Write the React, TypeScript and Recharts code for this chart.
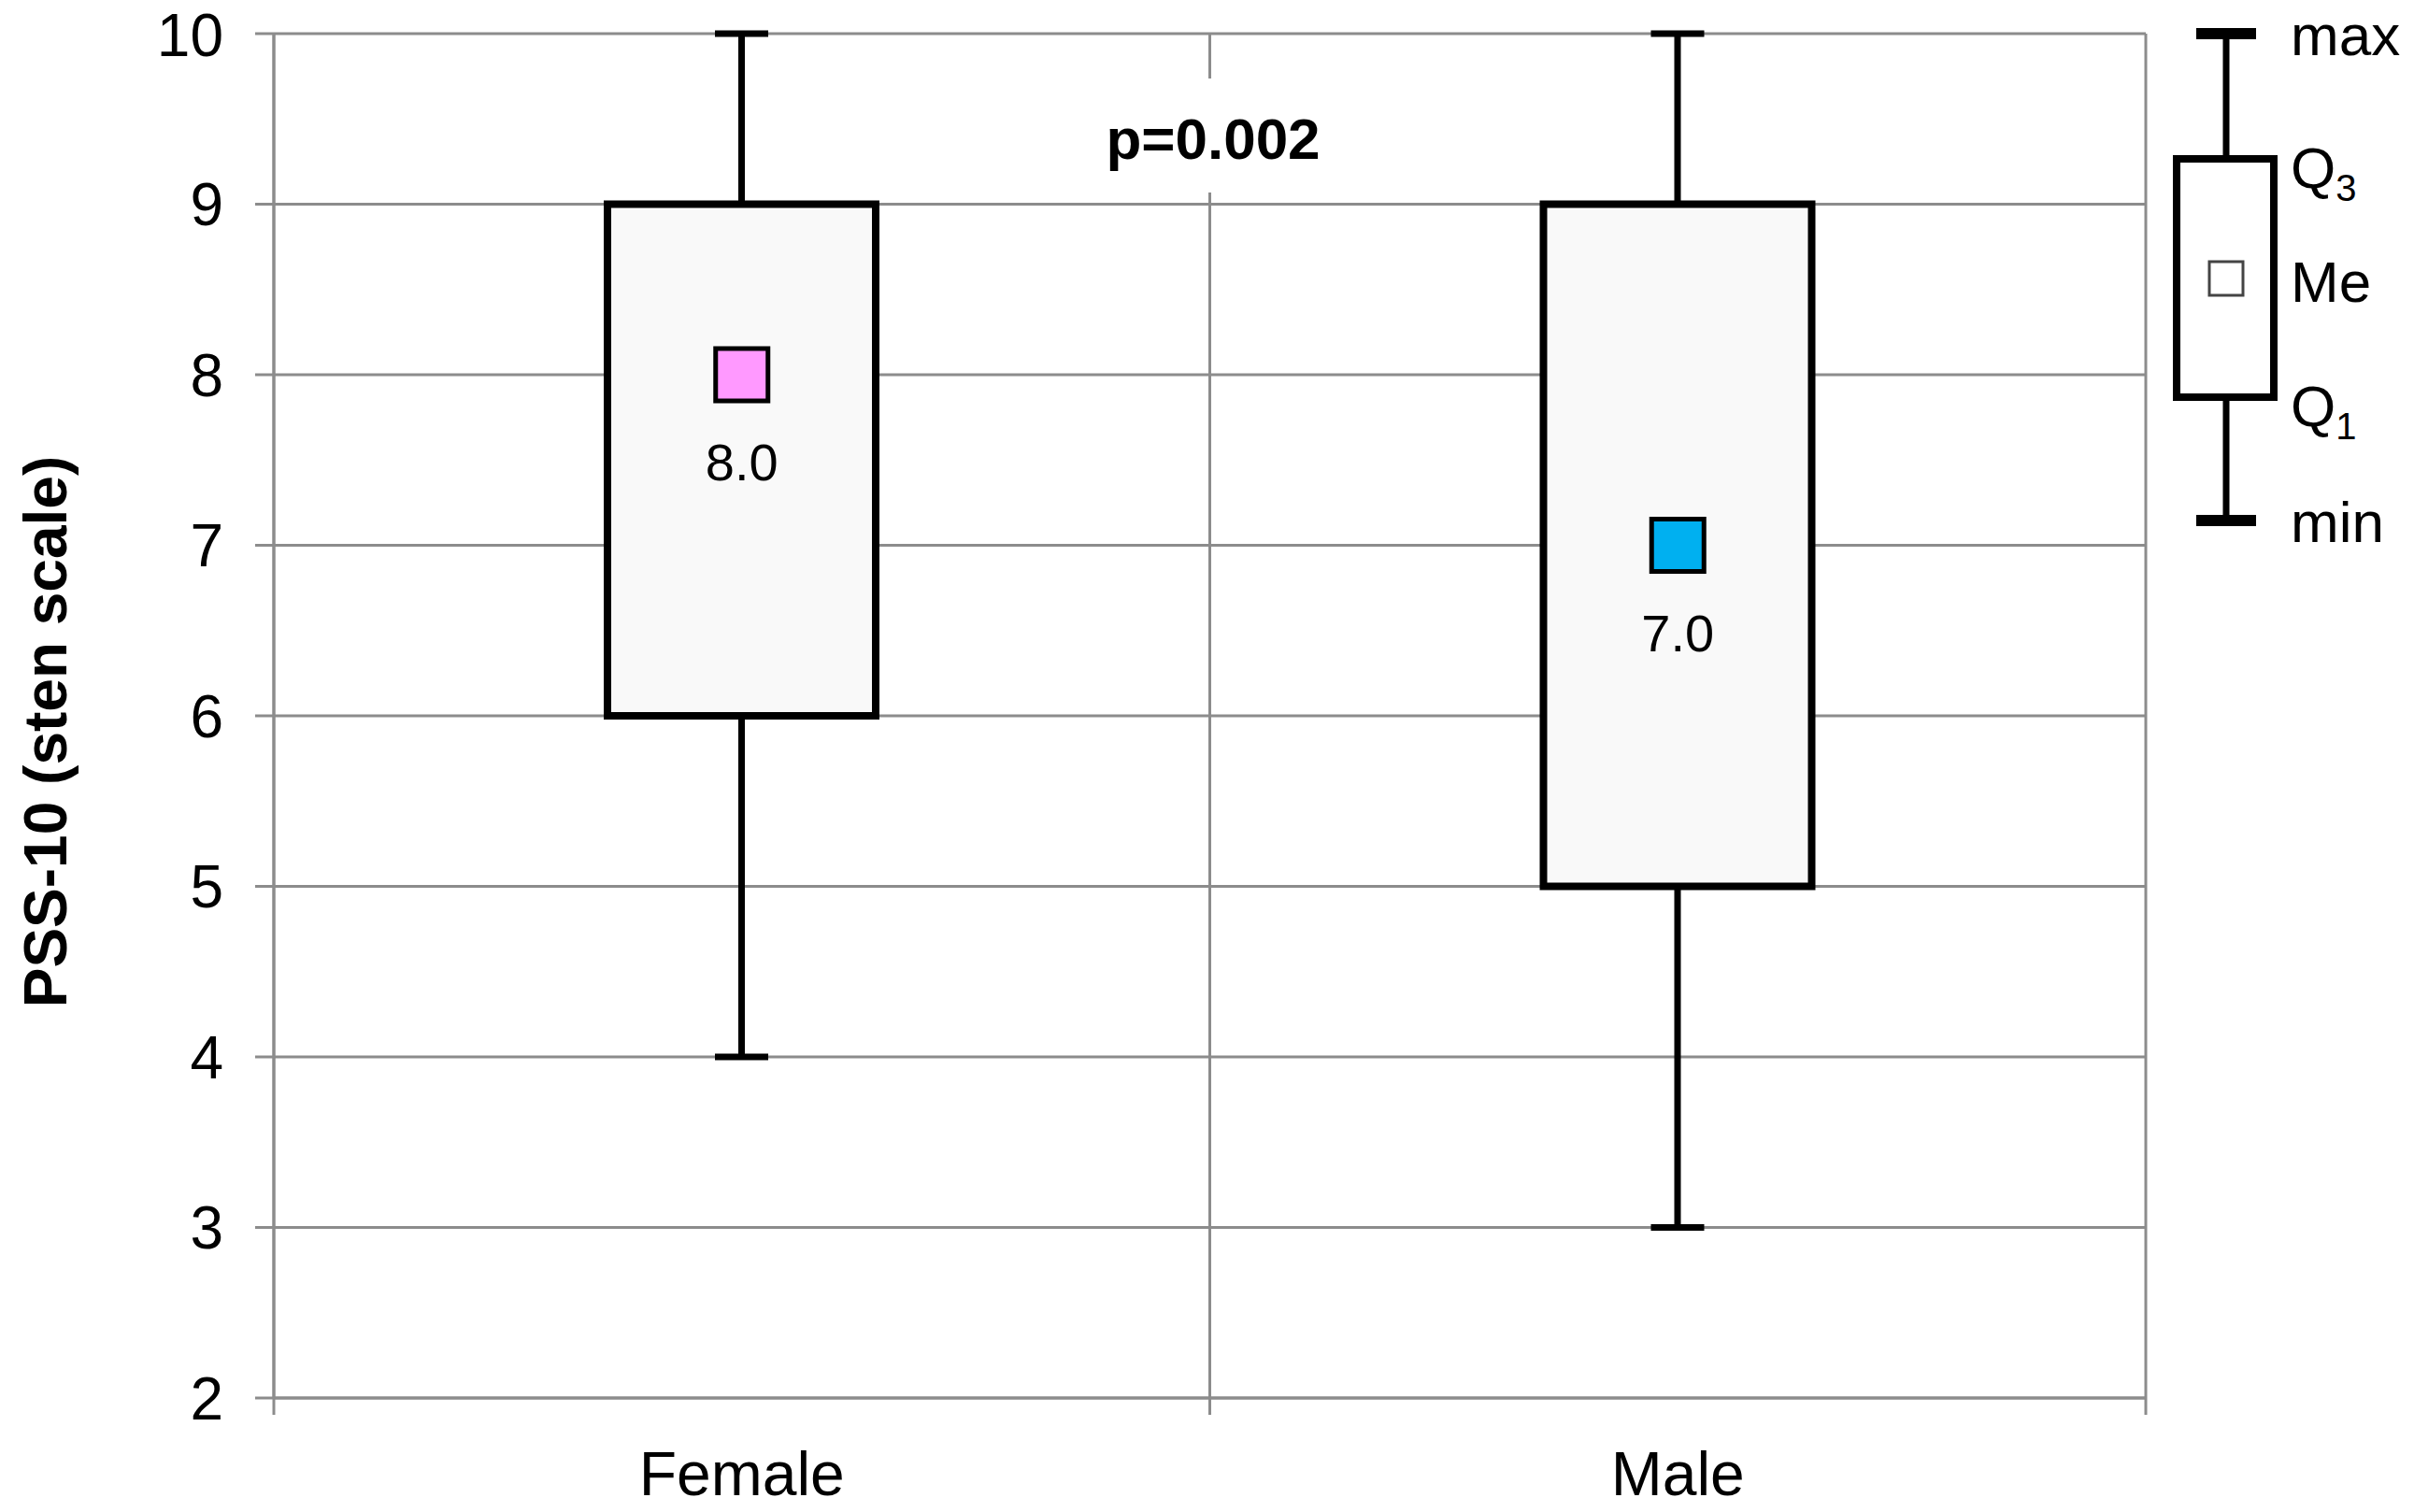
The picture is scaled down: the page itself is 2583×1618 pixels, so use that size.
import { ComposedChart, Bar, Scatter, XAxis, YAxis, CartesianGrid } from 'recharts'

// box plot data, PSS-10 sten scale
const groups = ['Female', 'Male']
const minValues = [4, 3]
const q1Values = [6, 5]
const medianValues = [8, 7]
const q3Values = [9, 9]
const maxValues = [10, 10]
const medianColors = ['#ff99ff', '#00b0f0']
const yTicks = [2, 3, 4, 5, 6, 7, 8, 9, 10]
const pValue = 'p=0.002'

const data = groups.map((g, i) => ({
  group: g,
  range: [minValues[i], maxValues[i]],
  min: minValues[i],
  q1: q1Values[i],
  median: medianValues[i],
  q3: q3Values[i],
  max: maxValues[i],
  color: medianColors[i],
}))

const FONT = '"Liberation Sans", Arial, sans-serif'
const GRID = '#8c8c8c'

function BoxShape(props: any) {
  const { x, y, width, height, payload } = props
  const unit = height / (payload.max - payload.min)
  const yOf = (v: number) => y + (payload.max - v) * unit
  const cx = x + width / 2
  const cap = 57
  return (
    <g>
      <line x1={cx} x2={cx} y1={yOf(payload.max)} y2={yOf(payload.q3)} stroke="#000" strokeWidth={7} />
      <line x1={cx} x2={cx} y1={yOf(payload.q1)} y2={yOf(payload.min)} stroke="#000" strokeWidth={7} />
      <line x1={cx - cap / 2} x2={cx + cap / 2} y1={yOf(payload.max)} y2={yOf(payload.max)} stroke="#000" strokeWidth={7} />
      <line x1={cx - cap / 2} x2={cx + cap / 2} y1={yOf(payload.min)} y2={yOf(payload.min)} stroke="#000" strokeWidth={7} />
      <rect
        x={x}
        y={yOf(payload.q3)}
        width={width}
        height={yOf(payload.q1) - yOf(payload.q3)}
        fill="#f9f9f9"
        stroke="#000"
        strokeWidth={8}
      />
    </g>
  )
}

function MedianShape(props: any) {
  const { cx, cy, payload } = props
  const s = 56
  return (
    <g>
      <rect x={cx - s / 2} y={cy - s / 2} width={s} height={s} fill={payload.color} stroke="#000" strokeWidth={5} />
      <text x={cx} y={cy + 113} textAnchor="middle" fontSize={56} fontFamily={FONT} fill="#000">
        {payload.median.toFixed(1)}
      </text>
    </g>
  )
}

// category label with tick marks on the band edges (like the original)
function CategoryTick(props: any) {
  const { x, y, payload } = props
  const half = payload.offset || 0
  const axisY = y - 57
  return (
    <g>
      <line x1={x - half} x2={x - half} y1={axisY} y2={axisY + 18} stroke={GRID} strokeWidth={3} />
      <line x1={x + half} x2={x + half} y1={axisY} y2={axisY + 18} stroke={GRID} strokeWidth={3} />
      <text x={x} y={y} dy="0.71em" textAnchor="middle" fontSize={66} fontFamily={FONT} fill="#000">
        {payload.value}
      </text>
    </g>
  )
}

function YLabel(props: any) {
  const { viewBox } = props
  const cy = viewBox.y + viewBox.height / 2 + 17
  return (
    <text
      x={49}
      y={cy}
      transform={`rotate(-90, 49, ${cy})`}
      textAnchor="middle"
      dominantBaseline="central"
      fontSize={64}
      fontWeight="bold"
      fontFamily={FONT}
      fill="#000"
    >
      PSS-10 (sten scale)
    </text>
  )
}

function LegendKey() {
  const cx = 2382
  const tx = 2451
  return (
    <g fontFamily={FONT} fill="#000">
      <line x1={cx} x2={cx} y1={36} y2={557} stroke="#000" strokeWidth={7} />
      <line x1={cx - 32} x2={cx + 32} y1={36} y2={36} stroke="#000" strokeWidth={12} />
      <line x1={cx - 32} x2={cx + 32} y1={557} y2={557} stroke="#000" strokeWidth={12} />
      <rect x={2329} y={170} width={104} height={255} fill="#fff" stroke="#000" strokeWidth={8} />
      <rect x={cx - 18} y={280} width={36} height={36} fill="#fff" stroke="#444" strokeWidth={3} />
      <text x={tx} y={59} fontSize={62}>max</text>
      <text x={tx} y={201} fontSize={62}>
        Q<tspan fontSize={40} dy={14}>3</tspan>
      </text>
      <text x={tx} y={323} fontSize={62}>Me</text>
      <text x={tx} y={456} fontSize={62}>
        Q<tspan fontSize={40} dy={14}>1</tspan>
      </text>
      <text x={tx} y={580} fontSize={62}>min</text>
    </g>
  )
}

export default function App() {
  return (
    <div style={{ position: 'relative', width: 2583, height: 1618, background: '#fff' }}>
      <style>{'body{margin:0}'}</style>
      <ComposedChart
        width={2583}
        height={1618}
        data={data}
        margin={{ top: 36, right: 287, bottom: 0, left: 0 }}
      >
        <CartesianGrid
          stroke={GRID}
          strokeWidth={3}
          verticalCoordinatesGenerator={({ offset }: any) => [
            offset.left,
            offset.left + offset.width / 2,
            offset.left + offset.width,
          ]}
        />
        <XAxis
          dataKey="group"
          type="category"
          axisLine={{ stroke: GRID, strokeWidth: 3 }}
          tickLine={false}
          tickSize={0}
          tickMargin={57}
          height={122}
          tick={<CategoryTick />}
        />
        <YAxis
          type="number"
          domain={[2, 10]}
          ticks={yTicks}
          width={293}
          tickSize={20}
          tickMargin={34}
          stroke={GRID}
          strokeWidth={3}
          tick={{ fill: '#000', fontSize: 64, fontFamily: FONT }}
          label={<YLabel />}
        />
        <Bar dataKey="range" barSize={287} shape={<BoxShape />} isAnimationActive={false} />
        <Scatter dataKey="median" shape={<MedianShape />} isAnimationActive={false} />
      </ComposedChart>
      <svg width={2583} height={1618} style={{ position: 'absolute', left: 0, top: 0, pointerEvents: 'none' }}>
        <rect x={1172} y={84} width={252} height={122} fill="#fff" />
        <text x={1298} y={170} textAnchor="middle" fontSize={62} fontWeight="bold" fontFamily={FONT} fill="#000">
          {pValue}
        </text>
        <LegendKey />
      </svg>
    </div>
  )
}
